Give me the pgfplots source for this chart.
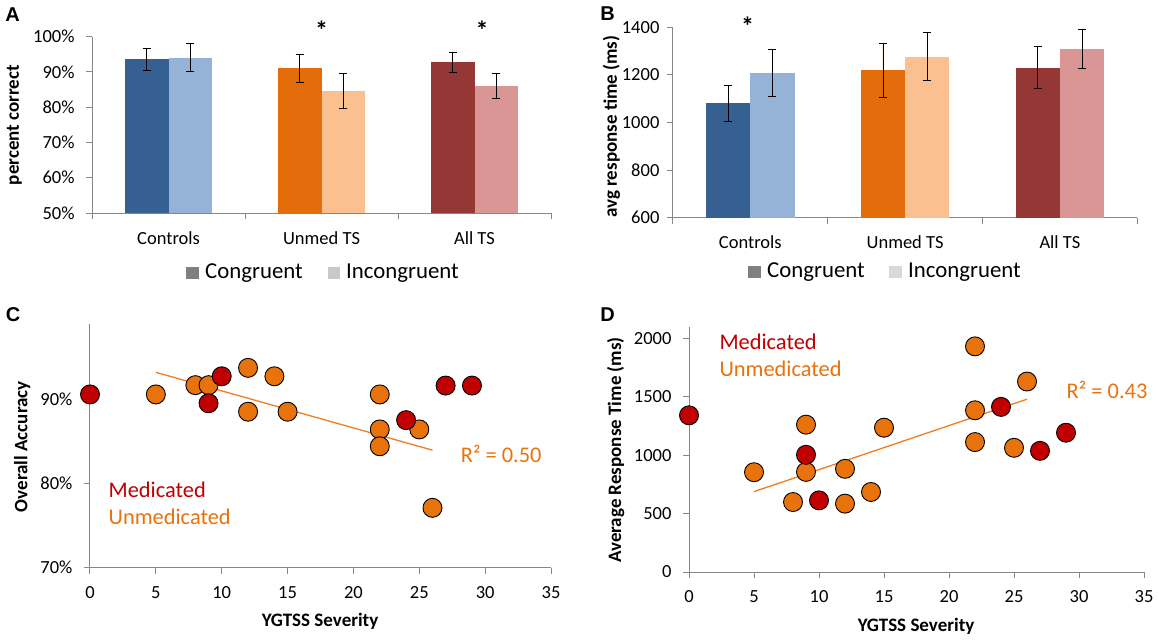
\documentclass[border=0pt]{standalone}
\usepackage{pgfplots}
\pgfplotsset{compat=1.18}
\usepackage{fontspec}
\setmainfont{Carlito}
\newfontfamily\arialf{Liberation Sans}
\definecolor{blueD}{HTML}{376092}
\definecolor{blueL}{HTML}{95B3D7}
\definecolor{orD}{HTML}{E46C0A}
\definecolor{orL}{HTML}{FAC090}
\definecolor{redD}{HTML}{953735}
\definecolor{redL}{HTML}{D99694}
\definecolor{medred}{HTML}{C00000}
\definecolor{unmed}{HTML}{E8720C}
\definecolor{axgray}{HTML}{878787}
\definecolor{trend}{HTML}{EF7D22}
\definecolor{legD}{HTML}{7F7F7F}
\definecolor{legL}{HTML}{C8C8C8}
\definecolor{legLB}{HTML}{D9D9D9}

\pgfplotsset{
  excel/.style={
    scale only axis, clip=false,
    axis lines=left, axis line style={-, draw=axgray, line width=1pt},
    tick align=outside, major tick length=6pt, minor tick length=6pt,
    every tick/.style={draw=axgray, line width=1pt},
    tick label style={font=\fontsize{18.5}{20}\selectfont},
    label style={font=\bfseries\fontsize{19}{21}\selectfont},
    /pgf/number format/assume math mode=true,
  },
  barchart/.style={excel, ybar, bar width=0.286,
    xmin=-0.5, xmax=2.5, xtick={0,1,2},
    major x tick style={draw=none},
    minor xtick={-0.5,0.5,1.5,2.5},
    xticklabels={Controls,Unmed TS,All TS}},
  errb/.style={error bars/.cd, y dir=both, y explicit,
    error mark=|,
    error bar style={draw=black, line width=0.9pt},
    error mark options={draw=black, line width=0.9pt, mark size=4pt}},
  scat/.style={only marks, mark=*, mark size=9.5pt},
}

\begin{document}
\begin{tikzpicture}

% ---------------- Panel A ----------------
\begin{axis}[barchart, at={(92.1pt,-213pt)}, anchor=south west,
  width=458.9pt, height=176.3pt,
  ymin=50, ymax=100, ytick={50,60,70,80,90,100},
  yticklabels={50\%,60\%,70\%,80\%,90\%,100\%},
  yticklabel style={xshift=-8pt},
  xticklabel style={yshift=-9pt},
  ylabel={percent correct},
  ylabel style={at={(axis description cs:-0.1695,0.499)}, anchor=center}]
\addplot+[fill=blueD, draw=none, bar shift=-0.143, errb] coordinates {(0,93.6) +- (0,3.2)};
\addplot+[fill=blueL, draw=none, bar shift=0.143, errb] coordinates {(0,94.1) +- (0,3.9)};
\addplot+[fill=orD, draw=none, bar shift=-0.143, errb] coordinates {(1,91.0) +- (0,3.85)};
\addplot+[fill=orL, draw=none, bar shift=0.143, errb] coordinates {(1,84.6) +- (0,4.85)};
\addplot+[fill=redD, draw=none, bar shift=-0.143, errb] coordinates {(2,92.7) +- (0,2.8)};
\addplot+[fill=redL, draw=none, bar shift=0.143, errb] coordinates {(2,86.1) +- (0,3.6)};
\node[font=\bfseries\fontsize{26}{26}\selectfont] at (axis cs:1.0,101.8) {*};
\node[font=\bfseries\fontsize{26}{26}\selectfont] at (axis cs:2.05,101.8) {*};
\end{axis}

% ---------------- Panel B ----------------
\begin{axis}[barchart, at={(672.9pt,-217.7pt)}, anchor=south west,
  width=464.4pt, height=190.4pt,
  ymin=600, ymax=1400, ytick={600,800,1000,1200,1400},
  yticklabels={600,800,1000,1200,1400},
  yticklabel style={xshift=-4pt},
  xticklabel style={yshift=-8pt},
  ylabel={avg response time (ms)},
  ylabel style={at={(axis description cs:-0.1326,0.478)}, anchor=center}]
\addplot+[fill=blueD, draw=none, bar shift=-0.143, errb] coordinates {(0,1081) +- (0,76)};
\addplot+[fill=blueL, draw=none, bar shift=0.143, errb] coordinates {(0,1208) +- (0,100)};
\addplot+[fill=orD, draw=none, bar shift=-0.143, errb] coordinates {(1,1219) +- (0,114)};
\addplot+[fill=orL, draw=none, bar shift=0.143, errb] coordinates {(1,1277) +- (0,100)};
\addplot+[fill=redD, draw=none, bar shift=-0.143, errb] coordinates {(2,1230) +- (0,88)};
\addplot+[fill=redL, draw=none, bar shift=0.143, errb] coordinates {(2,1310) +- (0,82)};
\node[font=\bfseries\fontsize{26}{26}\selectfont] at (axis cs:-0.017,1404) {*};
\end{axis}

% ---------------- Panel C ----------------
\begin{axis}[excel, at={(90pt,-567.7pt)}, anchor=south west,
  width=461pt, height=243.7pt,
  xmin=0, xmax=35, ymin=70, ymax=98.9,
  xtick={0,5,10,15,20,25,30,35},
  xticklabels={0,5,10,15,20,25,30,35},
  ytick={70,80,90}, yticklabels={70\%,80\%,90\%},
  yticklabel style={xshift=-8pt},
  xticklabel style={yshift=-9pt},
  xlabel={YGTSS Severity}, ylabel={Overall Accuracy},
  xlabel style={at={(axis description cs:0.499,-0.2216)}, anchor=center},
  ylabel style={at={(axis description cs:-0.147,0.4965)}, anchor=center}]
\addplot[trend, line width=1.3pt] coordinates {(5,93.17) (26,83.94)};
\addplot[scat, mark options={fill=unmed, draw=black, line width=0.9pt}] coordinates {
 (5,90.55) (8,91.65) (9,91.65) (12,93.7) (14,92.7) (12,88.5) (15,88.5)
 (22,90.55) (22,86.4) (22,84.4) (25,86.4) (26,77.1)};
\addplot[scat, mark options={fill=medred, draw=black, line width=0.9pt}] coordinates {
 (0,90.55) (10,92.7) (9,89.5) (24,87.5) (27,91.6) (29,91.6)};
\node[anchor=west, text=medred, font=\fontsize{22.4}{24}\selectfont, inner sep=0pt] at (axis cs:1.4,79.23) {Medicated};
\node[anchor=west, text=unmed, font=\fontsize{22.4}{24}\selectfont, inner sep=0pt] at (axis cs:1.4,76.02) {Unmedicated};
\node[anchor=west, text=unmed, font=\fontsize{22.4}{24}\selectfont, inner sep=0pt] at (axis cs:28.14,83.5) {R² = 0.50};
\end{axis}

% ---------------- Panel D ----------------
\begin{axis}[excel, at={(689pt,-572pt)}, anchor=south west,
  width=455pt, height=244.7pt,
  xmin=0, xmax=35, ymin=0, ymax=2094,
  xtick={0,5,10,15,20,25,30,35},
  xticklabels={0,5,10,15,20,25,30,35},
  ytick={0,500,1000,1500,2000}, yticklabels={0,500,1000,1500,2000},
  yticklabel style={xshift=-8pt},
  xticklabel style={yshift=-9pt},
  xlabel={YGTSS Severity}, ylabel={Average Response Time (ms)},
  xlabel style={at={(axis description cs:0.499,-0.2235)}, anchor=center},
  ylabel style={at={(axis description cs:-0.161,0.4986)}, anchor=center}]
\addplot[trend, line width=1.3pt] coordinates {(5,688) (26,1479)};
\addplot[scat, mark options={fill=unmed, draw=black, line width=0.9pt}] coordinates {
 (5,854) (8,599) (9,1261) (9,857) (12,883) (12,585) (14,685) (15,1235)
 (22,1931) (22,1384) (22,1112) (25,1063) (26,1630)};
\addplot[scat, mark options={fill=medred, draw=black, line width=0.9pt}] coordinates {
 (0,1341) (9,1003) (10,613) (24,1413) (27,1037) (29,1192)};
\node[anchor=west, text=medred, font=\fontsize{22.4}{24}\selectfont, inner sep=0pt] at (axis cs:2.33,1971) {Medicated};
\node[anchor=west, text=unmed, font=\fontsize{22.4}{24}\selectfont, inner sep=0pt] at (axis cs:2.33,1735) {Unmedicated};
\node[anchor=west, text=unmed, font=\fontsize{22.4}{24}\selectfont, inner sep=0pt] at (axis cs:29.04,1557) {R² = 0.43};
\end{axis}

% legends of A and B
\fill[legD] (186.4pt,-266.7pt) rectangle (199pt,-279.3pt);
\node[anchor=west, inner sep=0pt, font=\fontsize{22.8}{24}\selectfont] at (205pt,-273pt) {Congruent};
\fill[legL] (327.5pt,-266.7pt) rectangle (340pt,-279.3pt);
\node[anchor=west, inner sep=0pt, font=\fontsize{22.8}{24}\selectfont] at (346pt,-273pt) {Incongruent};
\fill[legD] (747.7pt,-265.7pt) rectangle (760.6pt,-278.3pt);
\node[anchor=west, inner sep=0pt, font=\fontsize{22.8}{24}\selectfont] at (767pt,-272pt) {Congruent};
\fill[legLB] (889pt,-265.7pt) rectangle (901.8pt,-278.3pt);
\node[anchor=west, inner sep=0pt, font=\fontsize{22.8}{24}\selectfont] at (908pt,-272pt) {Incongruent};

% panel letters
\node[font=\arialf\bfseries\fontsize{20}{20}\selectfont] at (12.5pt,-15pt) {A};
\node[font=\arialf\bfseries\fontsize{20}{20}\selectfont] at (607.6pt,-13.3pt) {B};
\node[font=\arialf\bfseries\fontsize{20}{20}\selectfont] at (13pt,-315pt) {C};
\node[font=\arialf\bfseries\fontsize{20}{20}\selectfont] at (607.6pt,-315pt) {D};

\pgfresetboundingbox
\useasboundingbox (0pt,0pt) rectangle (1158pt,-641pt);
\end{tikzpicture}
\end{document}
